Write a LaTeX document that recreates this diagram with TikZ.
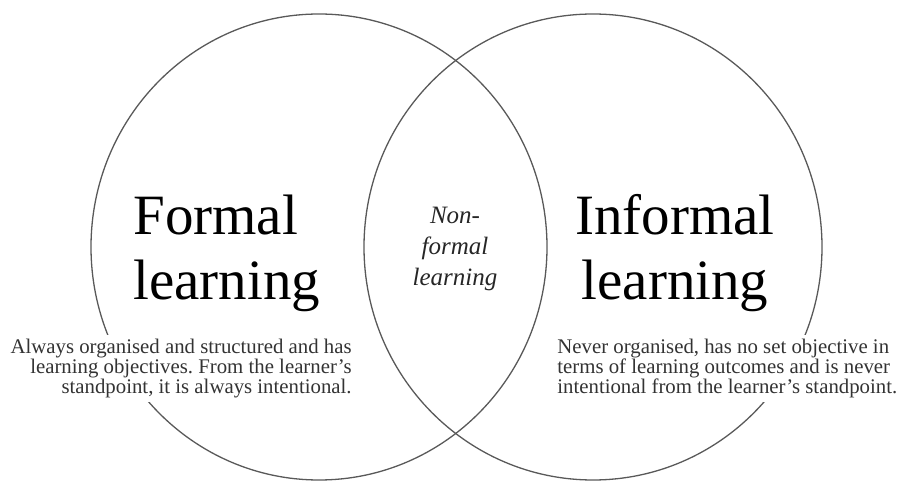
\documentclass[tikz,border=0pt]{standalone}
\usepackage{fontspec}
\setmainfont{Liberation Serif}
\frenchspacing
\newcommand\descfont{\fontsize{10.4}{10.2}\selectfont\lineskiplimit=-5pt\relax}

\begin{document}
\begin{tikzpicture}[x=0.5pt,y=0.5pt,
    set/.style={draw=black!65, line width=0.65pt},
    title/.style={font=\fontsize{28.5}{32.5}\selectfont, inner sep=0pt},
    desc/.style={font=\descfont, text=black!80, fill=white, inner sep=2pt},
    overlap/.style={font=\fontsize{12.5}{15.5}\selectfont\itshape, text=black!85, align=center, inner sep=0pt}
  ]
  \useasboundingbox (0,0) rectangle (900,482);

  % the two sets
  \draw[set] (319,235) ellipse [x radius=228, y radius=233];
  \draw[set] (593,235) ellipse [x radius=229, y radius=233];

  \node[title, align=left, anchor=base west] (formal) at (133,182) {Formal\\learning};
  \node[title, align=center, anchor=base] (informal) at (675,182) {Informal\\learning};
  \node[overlap, anchor=base] (nonformal) at (455,196) {Non-\\formal\\learning};

  \node[desc, align=right, anchor=base east] (formaldesc) at (356,88)
    {Always organised and structured and has\\learning objectives. From the learner’s\\standpoint, it is always intentional.};
  \node[desc, align=left, anchor=base west] (informaldesc) at (553,88)
    {Never organised, has no set objective in\\terms of learning outcomes and is never\\intentional from the learner’s standpoint.};
\end{tikzpicture}
\end{document}
